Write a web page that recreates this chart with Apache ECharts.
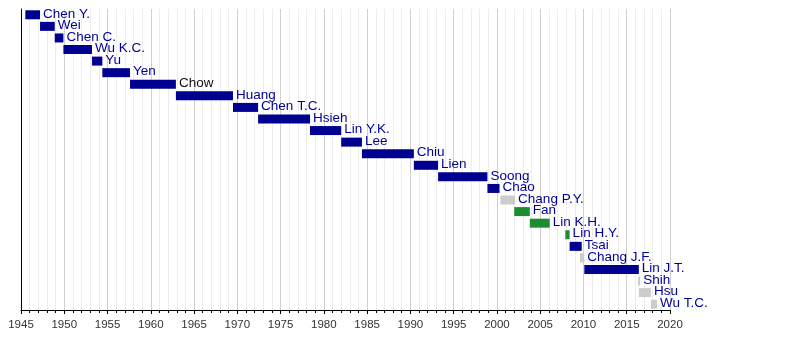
<!DOCTYPE html>
<html>
<head>
<meta charset="utf-8">
<script src="https://cdn.jsdelivr.net/npm/echarts@6/dist/echarts.min.js"></script>
<style>html,body{margin:0;padding:0;background:#fff}#c{width:800px;height:360px}</style>
</head>
<body>
<div id="c"></div>
<script>
const names = ["Chen Y.","Wei","Chen C.","Wu K.C.","Yu","Yen","Chow","Huang","Chen T.C.","Hsieh","Lin Y.K.","Lee","Chiu","Lien","Soong","Chao","Chang P.Y.","Fan","Lin K.H.","Lin H.Y.","Tsai","Chang J.F.","Lin J.T.","Shih","Hsu","Wu T.C."];
const starts = [1945.5,1947.2,1948.9,1949.9,1953.2,1954.4,1957.6,1962.9,1969.5,1972.4,1978.4,1982.0,1984.4,1990.4,1993.2,1998.9,2000.4,2002.0,2003.8,2007.9,2008.4,2009.6,2010.1,2016.3,2016.4,2017.8];
const ends   = [1947.2,1948.9,1949.9,1953.2,1954.4,1957.6,1962.9,1969.5,1972.4,1978.4,1982.0,1984.4,1990.4,1993.2,1998.9,2000.3,2002.1,2003.8,2006.1,2008.4,2009.8,2010.1,2016.4,2016.55,2017.8,2018.5];
const kinds  = ["k","k","k","k","k","k","k","k","k","k","k","k","k","k","k","k","a","g","g","g","k","a","k","a","a","a"];
const barColors = {k:"#000090", g:"#1e8c32", a:"#cccccc"};
const labelColors = ["#000099","#000099","#000099","#000099","#000099","#000099","#111111","#000099","#000099","#000099","#000099","#000099","#000099","#000099","#000099","#000099","#000099","#000099","#000099","#000099","#000099","#000099","#000099","#000099","#000099","#000099"];
const xMin = 1945, xMax = 2020, xStep = 5;

const chart = echarts.init(document.getElementById('c'), null, {renderer:'canvas'});
chart.setOption({
  animation:false,
  grid:{left:21, right:130, top:9, bottom:50, containLabel:false},
  xAxis:{
    type:'value', min:xMin, max:xMax, interval:xStep,
    axisLine:{show:true, lineStyle:{color:'#000', width:1}},
    axisTick:{show:true, length:4, inside:false, lineStyle:{color:'#000'}},
    minorTick:{show:true, splitNumber:5, length:3, lineStyle:{color:'#000'}},
    axisLabel:{color:'#333', fontSize:11.5, fontFamily:'Liberation Sans, Arial, sans-serif', margin:9,
               formatter:v=>String(v)},
    splitLine:{show:true, lineStyle:{color:'#d0d0d0', width:1}},
    minorSplitLine:{show:true, lineStyle:{color:'#ececec', width:1}}
  },
  yAxis:{
    type:'category', data:names, inverse:true,
    axisLine:{show:true, lineStyle:{color:'#000'}},
    axisTick:{show:false}, axisLabel:{show:false}, splitLine:{show:false}
  },
  series:[
    {type:'bar', stack:'t', silent:true, barWidth:9,
     itemStyle:{color:'transparent'}, data:starts},
    {type:'bar', stack:'t', barWidth:9,
     data: names.map((n,i)=>({
       value: +(ends[i]-starts[i]).toFixed(3),
       itemStyle:{color:barColors[kinds[i]]},
       label:{show:true, position:'right', distance:3, formatter:n,
              color:labelColors[i], fontSize:13.5,
              fontFamily:'Liberation Sans, Arial, sans-serif', offset:[0,-1]}
     }))}
  ]
});
</script>
</body>
</html>
